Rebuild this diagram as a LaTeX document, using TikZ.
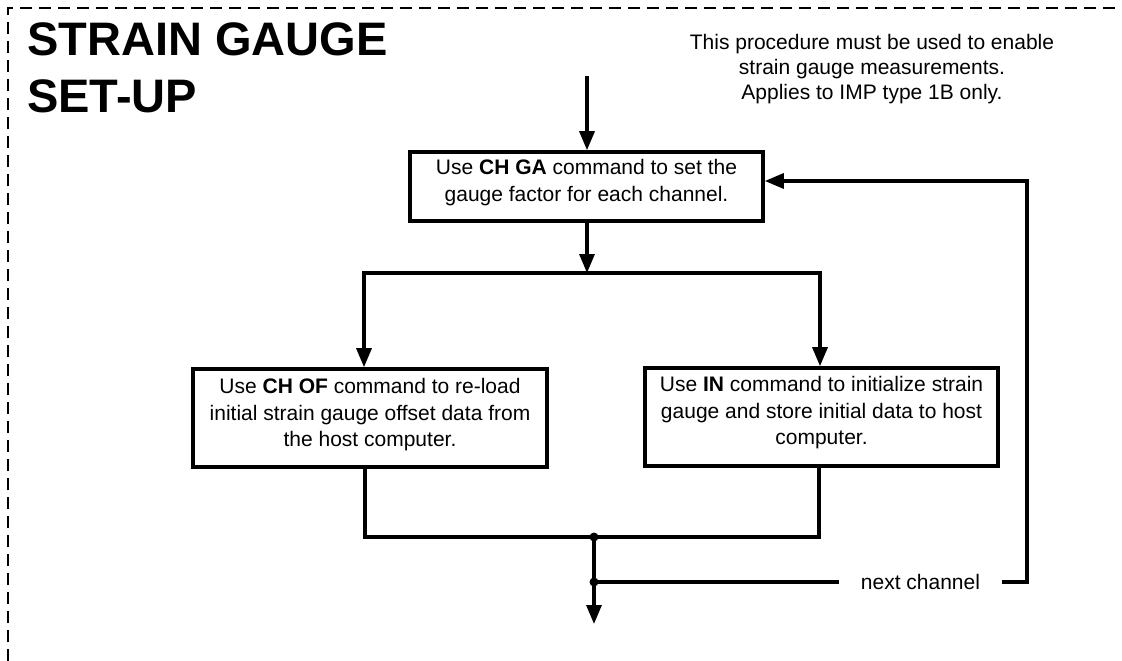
\documentclass[tikz,border=0pt]{standalone}
\usepackage{fontspec}
\setmainfont{Liberation Sans}
\usetikzlibrary{arrows.meta}
\begin{document}
\begin{tikzpicture}[x=1pt,y=-1pt,
  conn/.style={line width=3.2pt},
  tip/.tip={Triangle[width=15pt,length=19pt]},
  arr/.style={conn,-tip},
  stepbox/.style={draw,line width=3.6pt,inner sep=0pt},
  txt/.style={align=center,inner sep=0pt,font=\fontsize{21}{26.5}\selectfont},
  titletxt/.style={anchor=base west,inner sep=0pt,font=\fontsize{47}{56}\selectfont\bfseries},
  dot/.style={circle,fill,inner sep=0pt,minimum size=9pt},
  frame/.style={line width=2.5pt,dash pattern=on 12pt off 7pt}]
\useasboundingbox (0,0) rectangle (1122,661);
\draw[frame] (8,661) -- (8,8) -- (1122,8);
% title
\node[titletxt] (t1) at (27,56) {STRAIN GAUGE};
\node[titletxt] (t2) at (27,112) {SET-UP};
% note
\node[txt,anchor=north,font=\fontsize{21}{25}\selectfont] (note) at (872,34)
  {This procedure must be used to enable\\strain gauge measurements.\\Applies to IMP type 1B only.};
% boxes
\node[stepbox,minimum width=353pt,minimum height=69pt] (b1) at (586.5,186.5) {};
\node[txt,anchor=north] (b1t) at ([yshift=-9pt]b1.north)
  {Use \textbf{CH GA} command to set the\\gauge factor for each channel.};
\node[stepbox,minimum width=354pt,minimum height=98pt] (b2) at (370,418) {};
\node[txt,anchor=north] (b2t) at ([yshift=-11pt]b2.north)
  {Use \textbf{CH OF} command to re-load\\initial strain gauge offset data from\\the host computer.};
\node[stepbox,minimum width=353pt,minimum height=98pt] (b3) at (821.5,417) {};
\node[txt,anchor=north] (b3t) at ([yshift=-10pt]b3.north)
  {Use \textbf{IN} command to initialize strain\\gauge and store initial data to host\\computer.};
% connectors
\coordinate (top) at (587,76);
\draw[arr] (top) -- (top |- b1.north);
\coordinate (split) at (587,273);
\coordinate (sL) at (364,273);
\coordinate (sR) at (820,273);
\draw[arr] (b1.south -| split) -- (split);
\draw[conn,tip-tip] (sL |- b2.north) -- (sL) -- (sR) -- (sR |- b3.north);
\coordinate (jL) at (365,537);
\coordinate (jR) at (819,537);
\draw[conn] (b2.south -| jL) -- (jL) -- (jR) -- (b3.south -| jR);
\node[dot] (j) at (594,537) {};
\node[dot] (n) at (594,582) {};
\coordinate (out) at (594,624);
\draw[arr] (j.center) -- (out);
\node[txt,inner xsep=22pt] (nc) at (920.5,582) {next channel};
\coordinate (rc) at (1027,582);
\coordinate (rt) at (1027,181);
\draw[conn] (n.center) -- (nc.west);
\draw[arr] (nc.east) -- (rc) -- (rt) -- (rt -| b1.east);
\end{tikzpicture}
\end{document}
